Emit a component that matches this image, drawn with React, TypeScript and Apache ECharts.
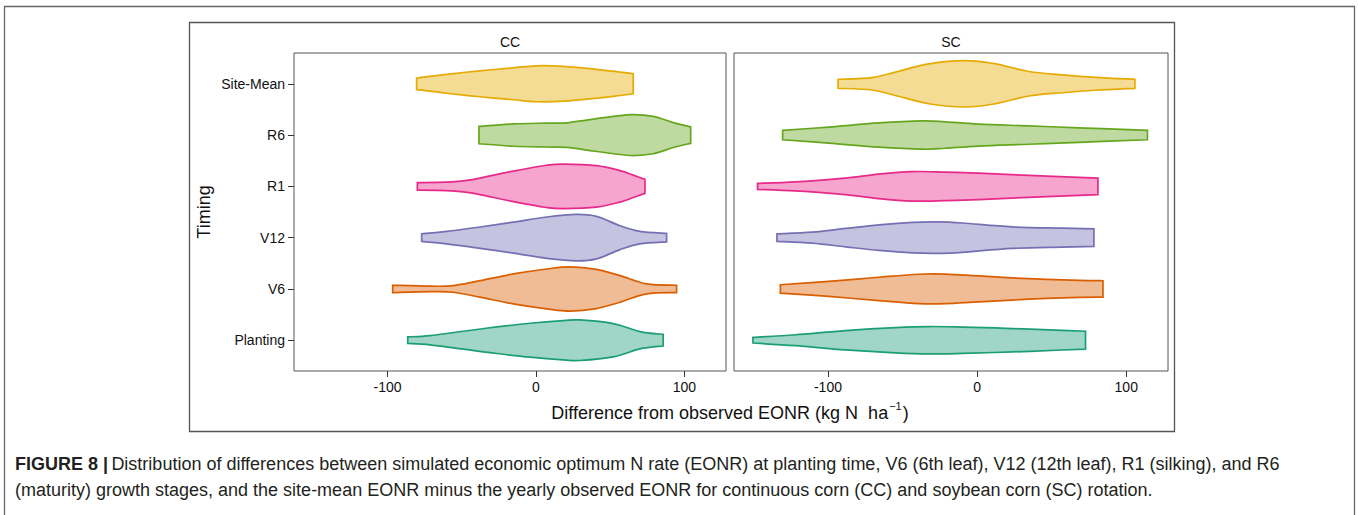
import React, { useEffect, useRef } from 'react';
import * as echarts from 'echarts';

const categories = ['Planting', 'V6', 'V12', 'R1', 'R6', 'Site-Mean'];
const panels = ['CC', 'SC'];
const xTicks = [-100, 0, 100];
const yTicks = [1, 2, 3, 4, 5, 6];
const colors = ['#1B9E77', '#D95F02', '#7570B3', '#E7298A', '#66A61E', '#E6AB02'];

// Violin profiles: [difference (kg N/ha), half-width (density, category units)]
const ccPlanting = [[-86.4, 0.064], [-71.4, 0.091], [-48.9, 0.175], [-26.5, 0.259], [-4, 0.331], [18.4, 0.383], [29.6, 0.395], [52.1, 0.325], [70, 0.169], [85.7, 0.113]];
const ccV6 = [[-96.5, 0.072], [-71.4, 0.054], [-55.7, 0.064], [-37.7, 0.161], [-15.3, 0.292], [7.2, 0.389], [22.9, 0.432], [40.8, 0.383], [56.6, 0.259], [74.5, 0.097], [94.7, 0.072]];
const ccV12 = [[-77, 0.074], [-60.2, 0.121], [-37.7, 0.208], [-15.3, 0.302], [7.2, 0.403], [27.4, 0.453], [40.8, 0.414], [56.6, 0.233], [70, 0.123], [88, 0.082]];
const ccR1 = [[-79.9, 0.072], [-60.2, 0.082], [-48.9, 0.107], [-37.7, 0.161], [-15.3, 0.298], [7.2, 0.412], [18.4, 0.434], [40.8, 0.405], [56.6, 0.307], [65.5, 0.218], [73.4, 0.136]];
const ccR6 = [[-38.4, 0.169], [-15.3, 0.218], [7.2, 0.233], [20.7, 0.239], [34.1, 0.292], [52.1, 0.364], [65.5, 0.399], [79, 0.364], [92.5, 0.243], [104.2, 0.161]];
const ccSiteMean = [[-80.4, 0.113], [-60.2, 0.185], [-37.7, 0.253], [-15.3, 0.311], [0.4, 0.35], [18.4, 0.34], [40.8, 0.282], [56.6, 0.228], [65.5, 0.195]];

const scPlanting = [[-150.3, 0.054], [-121.9, 0.107], [-88.3, 0.189], [-54.8, 0.247], [-32.4, 0.267], [-10, 0.257], [23.6, 0.228], [57.1, 0.191], [72.7, 0.175]];
const scV6 = [[-131.9, 0.082], [-99.5, 0.146], [-66, 0.228], [-39.1, 0.286], [-21.2, 0.288], [1.1, 0.253], [34.7, 0.2], [68.3, 0.165], [84.4, 0.16]];
const scV12 = [[-134.2, 0.072], [-110.7, 0.107], [-88.3, 0.179], [-66, 0.249], [-43.6, 0.298], [-25.7, 0.307], [-10, 0.286], [23.6, 0.21], [57.1, 0.185], [78.3, 0.171]];
const scR1 = [[-147.2, 0.058], [-121.9, 0.088], [-88.3, 0.161], [-66, 0.239], [-43.6, 0.288], [-21.2, 0.278], [1.1, 0.257], [34.7, 0.214], [68.3, 0.175], [81, 0.161]];
const scR6 = [[-130.4, 0.091], [-99.5, 0.156], [-66, 0.237], [-36.8, 0.276], [-21.2, 0.257], [1.1, 0.214], [34.7, 0.179], [68.3, 0.142], [114.2, 0.091]];
const scSiteMean = [[-93.2, 0.088], [-70.4, 0.121], [-54.8, 0.228], [-32.4, 0.389], [-7.8, 0.453], [12.3, 0.389], [34.7, 0.239], [57.1, 0.175], [79.5, 0.126], [105.8, 0.088]];

const ccProfiles = [ccPlanting, ccV6, ccV12, ccR1, ccR6, ccSiteMean];
const scProfiles = [scPlanting, scV6, scV12, scR1, scR6, scSiteMean];

const captionLine1 = 'Distribution of differences between simulated economic optimum N rate (EONR) at planting time, V6 (6th leaf), V12 (12th leaf), R1 (silking), and R6';
const captionLine2 = '(maturity) growth stages, and the site-mean EONR minus the yearly observed EONR for continuous corn (CC) and soybean corn (SC) rotation.';

const FONT = 'Liberation Sans, Arial, sans-serif';

function hexA(hex: string, a: number) {
  const n = parseInt(hex.slice(1), 16);
  return `rgba(${(n >> 16) & 255},${(n >> 8) & 255},${n & 255},${a})`;
}

function smoothSeg(pts: number[][]) {
  let d = '';
  for (let k = 0; k < pts.length - 1; k++) {
    const p0 = pts[Math.max(k - 1, 0)];
    const p1 = pts[k];
    const p2 = pts[k + 1];
    const p3 = pts[Math.min(k + 2, pts.length - 1)];
    const c1 = [p1[0] + (p2[0] - p0[0]) / 6, p1[1] + (p2[1] - p0[1]) / 6];
    const c2 = [p2[0] - (p3[0] - p1[0]) / 6, p2[1] - (p3[1] - p1[1]) / 6];
    d += ` C${c1[0].toFixed(2)},${c1[1].toFixed(2)} ${c2[0].toFixed(2)},${c2[1].toFixed(2)} ${p2[0].toFixed(2)},${p2[1].toFixed(2)}`;
  }
  return d;
}

function makeRender(profiles: number[][][]) {
  return (params: any, api: any) => {
    const i = params.dataIndex;
    const cat = api.value(1);
    const prof = profiles[i];
    const top = prof.map(([x, w]) => api.coord([x, cat + w]));
    const bot = prof.map(([x, w]) => api.coord([x, cat - w])).reverse();
    const d = `M${top[0][0]},${top[0][1]}` + smoothSeg(top) + ` L${bot[0][0]},${bot[0][1]}` + smoothSeg(bot) + ' Z';
    return {
      type: 'path',
      shape: { pathData: d },
      style: { fill: hexA(colors[i], 0.42), stroke: colors[i], lineWidth: 1.7 },
    };
  };
}

export default function App() {
  const ref = useRef<HTMLDivElement>(null);
  useEffect(() => {
    const chart = echarts.init(ref.current!, null, { renderer: 'svg' });
    const xAxisBase = {
      type: 'value',
      min: -163,
      max: 128,
      axisLine: { show: false, onZero: false },
      axisTick: { show: true, customValues: xTicks, length: 6, lineStyle: { color: '#333', width: 1 } },
      axisLabel: { customValues: xTicks, fontSize: 14, color: '#111', margin: 9, fontFamily: FONT },
      splitLine: { show: false },
    };
    const yBase = { type: 'value', min: 0.4, max: 6.6, splitLine: { show: false } };
    const option: any = {
      animation: false,
      backgroundColor: '#fff',
      grid: [
        { left: 294, top: 53, width: 432, height: 318, show: true, borderColor: '#555', borderWidth: 1, backgroundColor: 'transparent' },
        { left: 734, top: 53, width: 434, height: 318, show: true, borderColor: '#555', borderWidth: 1, backgroundColor: 'transparent' },
      ],
      xAxis: [
        { ...xAxisBase, gridIndex: 0 },
        { ...xAxisBase, gridIndex: 1 },
      ],
      yAxis: [
        {
          ...yBase,
          gridIndex: 0,
          axisLine: { show: false, onZero: false },
          axisTick: { show: true, customValues: yTicks, length: 6, lineStyle: { color: '#333', width: 1 } },
          axisLabel: {
            customValues: yTicks,
            fontSize: 14,
            color: '#111',
            margin: 9,
            fontFamily: FONT,
            formatter: (v: number) => categories[Math.round(v) - 1] || '',
          },
        },
        { ...yBase, gridIndex: 1, show: false, axisLine: { show: false, onZero: false } },
      ],
      series: [
        {
          type: 'custom',
          name: panels[0],
          xAxisIndex: 0,
          yAxisIndex: 0,
          renderItem: makeRender(ccProfiles),
          data: categories.map((c, i) => [0, i + 1]),
        },
        {
          type: 'custom',
          name: panels[1],
          xAxisIndex: 1,
          yAxisIndex: 1,
          renderItem: makeRender(scProfiles),
          data: categories.map((c, i) => [0, i + 1]),
        },
      ],
      graphic: [
        { type: 'rect', shape: { x: 4.5, y: 6.5, width: 1350, height: 530 }, style: { fill: 'none', stroke: '#666', lineWidth: 1.3 }, silent: true },
        { type: 'rect', shape: { x: 189.5, y: 22.5, width: 985, height: 409 }, style: { fill: 'none', stroke: '#555', lineWidth: 1.3 }, silent: true },
        { type: 'text', x: 510, y: 42, style: { text: panels[0], font: `14px ${FONT}`, fill: '#111', align: 'center', verticalAlign: 'middle' } },
        { type: 'text', x: 951, y: 42, style: { text: panels[1], font: `14px ${FONT}`, fill: '#111', align: 'center', verticalAlign: 'middle' } },
        {
          type: 'text', x: 204, y: 212, rotation: Math.PI / 2,
          style: { text: 'Timing', font: `18px ${FONT}`, fill: '#111', align: 'center', verticalAlign: 'middle' },
        },
        {
          type: 'text', x: 730, y: 411,
          style: {
            text: '{a|Difference from observed EONR (kg N  ha}{s|−1}{a|)}',
            align: 'center', verticalAlign: 'middle',
            rich: {
              a: { fontSize: 18, fontFamily: FONT, fill: '#111', lineHeight: 22, verticalAlign: 'bottom' },
              s: { fontSize: 11, fontFamily: FONT, fill: '#111', lineHeight: 22, verticalAlign: 'top', padding: [0, 1, 0, 1] },
            },
          },
        },
        {
          type: 'text', x: 15, y: 464,
          style: {
            text: '{b|FIGURE 8 |} {r|' + captionLine1 + '}',
            align: 'left', verticalAlign: 'middle',
            rich: {
              b: { fontSize: 18, fontFamily: FONT, fontWeight: 'bold', fill: '#231F20' },
              r: { fontSize: 18, fontFamily: FONT, fill: '#231F20' },
            },
          },
        },
        {
          type: 'text', x: 15, y: 490,
          style: { text: captionLine2, font: `18px ${FONT}`, fill: '#231F20', align: 'left', verticalAlign: 'middle' },
        },
      ],
    };
    chart.setOption(option);
    return () => chart.dispose();
  }, []);
  return <div ref={ref} style={{ position: 'absolute', left: 0, top: 0, width: 1358, height: 515 }} />;
}
